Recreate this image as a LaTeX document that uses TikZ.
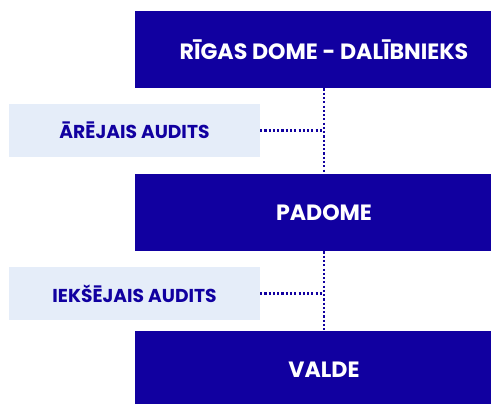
\documentclass[tikz,border=0pt]{standalone}
\usepackage{fontspec}
\setmainfont{Poppins}
\usepackage{xcolor}
\usetikzlibrary{positioning}
\definecolor{boardblue}{HTML}{1100A0}
\definecolor{auditblue}{HTML}{E5EDF9}

\begin{document}
\begin{tikzpicture}[x=0.75pt, y=-0.75pt,
    orgbox/.style={fill=boardblue, text=white, font=\bfseries\fontsize{16.6}{19}\selectfont,
        minimum width=284pt, minimum height=58pt, inner sep=0pt},
    auditbox/.style={fill=auditblue, text=boardblue, font=\bfseries\fontsize{14}{16}\selectfont,
        minimum width=188pt, minimum height=40pt, inner sep=0pt},
    link/.style={boardblue, line width=1.6pt, dash pattern=on 1.6pt off 1.6pt}]
    \clip (0,0) rectangle (491,403);
    % Nodes
    \node[orgbox] (dome) at (324,49.5) {RĪGAS DOME - DALĪBNIEKS};
    \node[orgbox] (padome) at (324,212.5) {PADOME};
    \node[orgbox] (valde) at (324,370) {VALDE};
    \node[auditbox] (arejais) at (134.5,130.5) {ĀRĒJAIS AUDITS};
    \node[auditbox] (ieksejais) at (134.5,293.5) {IEKŠĒJAIS AUDITS};

    % Connectors
    \coordinate (j1) at (dome.south |- arejais.east);
    \coordinate (j2) at (padome.south |- ieksejais.east);
    \draw[link] (dome.south) -- (padome.north);
    \draw[link] (padome.south) -- (valde.north);
    \draw[link] (arejais.east) -- (j1);
    \draw[link] (ieksejais.east) -- (j2);
\end{tikzpicture}
\end{document}
